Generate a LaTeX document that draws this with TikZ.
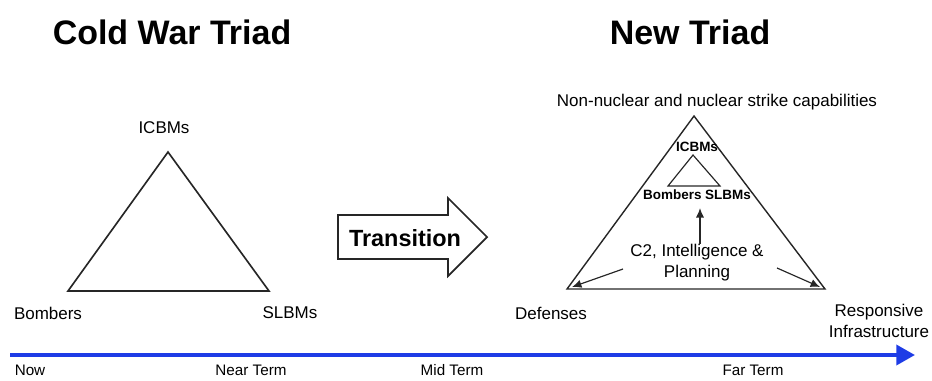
\documentclass[tikz,border=0pt]{standalone}
\usepackage{fontspec}
\setmainfont{Liberation Sans}
\usetikzlibrary{calc}
\usetikzlibrary{positioning}
\usetikzlibrary{arrows.meta}

\begin{document}
\begin{tikzpicture}[x=0.03cm, y=-0.03cm,
    title/.style={font=\fontsize{29}{34}\selectfont\bfseries, inner sep=0},
    lbl/.style={font=\fontsize{14.5}{18}\selectfont, inner sep=0, align=center},
    tiny/.style={font=\fontsize{11.5}{14}\selectfont\bfseries, inner sep=0},
    edge/.style={draw=black!85, line width=1.4pt, line join=miter},
    arr/.style={draw=black!85, line width=1pt, -{Latex[length=8pt, width=7pt]}}]
            \useasboundingbox (0, 0) rectangle (932, 380);
            \node[title] (cold) at (172, 32) {Cold War Triad};
            \node[title] (new) at (690, 32) {New Triad};

            \coordinate (ct) at (168, 152);
            \coordinate (cl) at (68, 291);
            \coordinate (cr) at (269, 291);
            \draw[edge] (ct) -- (cl) -- (cr) -- cycle;
            \node[lbl] (icbm) at (164, 128) {ICBMs};
            \node[lbl] (bomb) at (48, 313) {Bombers};
            \node[lbl] (slbm) at (290, 313) {SLBMs};

            \draw[edge, line width=1.5pt] (338, 215) -- (448, 215) -- (448, 198) -- (487, 237)
                -- (448, 276) -- (448, 259) -- (338, 259) -- cycle;
            \node[font=\fontsize{20}{24}\selectfont\bfseries, inner sep=0] (trans) at (405, 238) {Transition};

            \coordinate (nt) at (694, 116);
            \coordinate (nl) at (567, 289);
            \coordinate (nr) at (825, 289);
            \draw[edge, line width=1.2pt] (nt) -- (nl) -- (nr) -- cycle;
            \node[lbl] (strike) at (717, 102) {Non-nuclear and nuclear strike capabilities};
            \node[lbl] (def) at (551, 313) {Defenses};
            \node[lbl] (resp) at (879, 321) {Responsive\\Infrastructure};

            \coordinate (st) at (693, 155);
            \coordinate (sl) at (668, 186);
            \coordinate (sr) at (720, 186);
            \draw[edge, line width=1pt] (st) -- (sl) -- (sr) -- cycle;
            \node[tiny] (sicbm) at (697, 147) {ICBMs};
            \node[tiny] (sbs) at (697, 195) {Bombers SLBMs};

            \node[lbl] (c2) at (697, 263) {C2, Intelligence \&\\Planning};
            \coordinate (c2l) at (623, 269);
            \coordinate (c2r) at (777, 268);
            \draw[arr] (c2.north -| 700, 0) -- ($(sbs.south -| 700, 0) + (0, 8)$);
            \draw[arr] (c2l) -- ($(nl) + (5, -2)$);
            \draw[arr] (c2r) -- ($(nr) + (-5, -2)$);

            \coordinate (now) at (10, 355);
            \coordinate (later) at (915, 355);
            \draw[line width=3.4pt, draw={rgb,255:red,30;green,60;blue,230},
                -{Triangle[length=16pt, width=17pt]}] (now) -- (later);
            \foreach \t/\x in {Now/30, Near Term/251, Mid Term/452, Far Term/753}
            {
                \node[lbl, font=\fontsize{13}{16}\selectfont] at (\x, 370) {\t};
            }
        \end{tikzpicture}
\end{document}
